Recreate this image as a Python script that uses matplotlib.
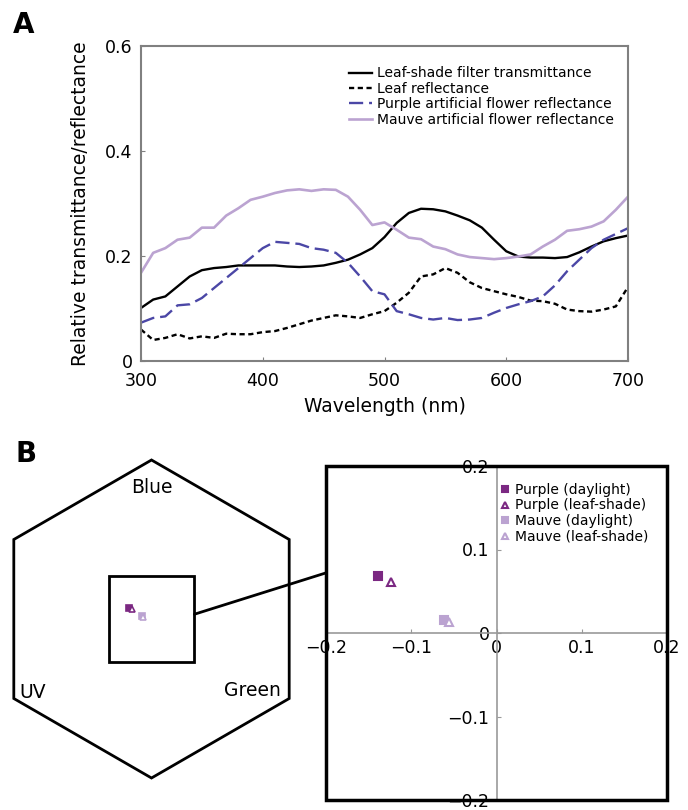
import matplotlib
matplotlib.use('Agg')
import matplotlib.pyplot as plt
from matplotlib.patches import Polygon, Rectangle, ConnectionPatch
import numpy as np

# panel A data
wavelength = list(range(300, 701, 10))
shade_trans = [0.101, 0.117, 0.123, 0.142, 0.161, 0.173, 0.177, 0.179, 0.182, 0.182, 0.182,
               0.182, 0.180, 0.179, 0.180, 0.182, 0.187, 0.193, 0.203, 0.215, 0.236,
               0.263, 0.282, 0.290, 0.289, 0.285, 0.277, 0.268, 0.254, 0.231, 0.209,
               0.199, 0.197, 0.197, 0.196, 0.198, 0.207, 0.218, 0.228, 0.234, 0.239]
leaf_refl = [0.060, 0.040, 0.044, 0.051, 0.043, 0.047, 0.044, 0.052, 0.051, 0.051, 0.055,
             0.057, 0.063, 0.070, 0.077, 0.082, 0.087, 0.085, 0.082, 0.089, 0.095,
             0.111, 0.130, 0.161, 0.165, 0.177, 0.168, 0.150, 0.139, 0.133, 0.127,
             0.122, 0.115, 0.114, 0.109, 0.098, 0.095, 0.094, 0.098, 0.104, 0.141]
purple_refl = [0.073, 0.082, 0.085, 0.106, 0.108, 0.120, 0.139, 0.158, 0.177, 0.196, 0.215,
               0.227, 0.225, 0.223, 0.215, 0.212, 0.206, 0.187, 0.161, 0.133, 0.127,
               0.095, 0.089, 0.082, 0.079, 0.082, 0.078, 0.079, 0.082, 0.092, 0.101,
               0.108, 0.114, 0.123, 0.144, 0.171, 0.193, 0.215, 0.231, 0.242, 0.253]
mauve_refl = [0.168, 0.206, 0.215, 0.231, 0.235, 0.254, 0.254, 0.277, 0.291, 0.307, 0.313,
              0.320, 0.325, 0.327, 0.324, 0.327, 0.326, 0.313, 0.288, 0.259, 0.264,
              0.250, 0.235, 0.232, 0.218, 0.213, 0.203, 0.198, 0.196, 0.194, 0.196,
              0.199, 0.203, 0.218, 0.231, 0.248, 0.251, 0.256, 0.266, 0.288, 0.313]

# panel B data (hexagon colour space coordinates)
point_names = ['Purple (daylight)', 'Purple (leaf-shade)', 'Mauve (daylight)', 'Mauve (leaf-shade)']
point_x = [-0.139, -0.124, -0.061, -0.056]
point_y = [0.068, 0.061, 0.016, 0.013]
hex_labels = ['Blue', 'UV', 'Green']

PURPLE = '#7b2882'
MAUVE = '#bba3d1'
BLUE_DASH = '#4b47a6'
point_colors = [PURPLE, PURPLE, MAUVE, MAUVE]
point_markers = ['s', '^', 's', '^']
point_filled = [True, False, True, False]

plt.rcParams['font.family'] = 'DejaVu Sans'

fig = plt.figure(figsize=(6.88, 8.10), dpi=100)
W, H = 688, 810


def px_axes(left, top, right, bottom):
    return fig.add_axes([left / W, 1 - bottom / H, (right - left) / W, (bottom - top) / H])


# ---------- panel A ----------
ax = px_axes(141, 46, 628, 361)
ax.plot(wavelength, shade_trans, color='black', lw=1.7, label='Leaf-shade filter transmittance')
ax.plot(wavelength, leaf_refl, color='black', lw=1.7, dashes=(2.2, 1.5), label='Leaf reflectance')
ax.plot(wavelength, purple_refl, color=BLUE_DASH, lw=1.7, dashes=(6, 2.5),
        label='Purple artificial flower reflectance')
ax.plot(wavelength, mauve_refl, color=MAUVE, lw=1.9, label='Mauve artificial flower reflectance')
ax.set_xlim(300, 700)
ax.set_ylim(0, 0.6)
ax.set_xticks([300, 400, 500, 600, 700])
ax.set_yticks([0, 0.2, 0.4, 0.6])
ax.set_yticklabels(['0', '0.2', '0.4', '0.6'])
for s in ax.spines.values():
    s.set_color('#808080')
    s.set_linewidth(1.5)
ax.tick_params(direction='in', length=3, color='#808080', labelsize=12.5)
ax.tick_params(axis='x', pad=8)
ax.tick_params(axis='y', pad=6)
ax.set_xlabel('Wavelength (nm)', fontsize=13.5, labelpad=5)
ax.set_ylabel('Relative transmittance/reflectance', fontsize=13.5, labelpad=11)
ax.legend(loc='upper left', bbox_to_anchor=(0.428, 0.935), frameon=False, fontsize=10,
          handlelength=1.6, handletextpad=0.35, labelspacing=0.1, borderpad=0, borderaxespad=0)

fig.text(13 / W, 1 - 33 / H, 'A', fontsize=20, fontweight='bold', ha='left', va='baseline')
fig.text(15 / W, 1 - 462 / H, 'B', fontsize=20, fontweight='bold', ha='left', va='baseline')

# ---------- panel B: hexagon ----------
hx = px_axes(0, 440, 320, 800)
hx.set_xlim(-151.5 / 159, (320 - 151.5) / 159)
hx.set_ylim(-181 / 159, 179 / 159)
hx.set_aspect('equal')
hx.axis('off')
ang = np.deg2rad([90, 30, -30, -90, -150, 150])
hex_pts = np.column_stack([np.cos(ang), np.sin(ang)])
hx.add_patch(Polygon(hex_pts, closed=True, fill=False, ec='black', lw=2))
box_half = 0.27
hx.add_patch(Rectangle((-box_half, -box_half), 2 * box_half, 2 * box_half, fill=False, ec='black', lw=2))
for i in range(4):
    fc = point_colors[i] if point_filled[i] else 'white'
    hx.plot(point_x[i], point_y[i], marker=point_markers[i], ms=4.5, mfc=fc, mec=point_colors[i], mew=1.2,
            ls='none')
hx.text(0, 0.83, hex_labels[0], fontsize=13.5, ha='center', va='center')
hx.text(-0.745, -0.46, hex_labels[1], fontsize=13.5, ha='center', va='center')
hx.text(0.632, -0.447, hex_labels[2], fontsize=13.5, ha='center', va='center')

# ---------- panel B: zoomed plot ----------
bx = px_axes(326, 466, 667, 800)
bx.set_xlim(-0.2, 0.2)
bx.set_ylim(-0.2, 0.2)
for side in ['top', 'right']:
    bx.spines[side].set_visible(False)
for side in ['left', 'bottom']:
    bx.spines[side].set_position('zero')
    bx.spines[side].set_color('#999999')
    bx.spines[side].set_linewidth(1.2)
bx.add_patch(Rectangle((0, 0), 1, 1, transform=bx.transAxes, fill=False, ec='black', lw=2.5,
                       clip_on=False, zorder=5))
ticks = [-0.2, -0.1, 0, 0.1, 0.2]
tick_text = ['\u22120.2', '\u22120.1', '0', '0.1', '0.2']
bx.set_xticks(ticks)
bx.set_xticklabels(tick_text)
bx.set_yticks(ticks)
bx.set_yticklabels(tick_text)
bx.tick_params(direction='in', length=3, color='#999999', labelsize=12.5)
bx.tick_params(axis='x', pad=4)
bx.tick_params(axis='y', pad=5)
for i in range(4):
    fc = point_colors[i] if point_filled[i] else 'white'
    bx.plot(point_x[i], point_y[i], marker=point_markers[i], ms=6, mfc=fc, mec=point_colors[i], mew=1.5,
            ls='none', label=point_names[i])
bx.legend(loc='upper left', bbox_to_anchor=(0.512, 0.95), frameon=False, fontsize=10,
          handlelength=0.7, handletextpad=0.35, labelspacing=0.12, borderpad=0, borderaxespad=0,
          markerscale=0.8)

con = ConnectionPatch(xyA=(box_half, 0.03), coordsA=hx.transData,
                      xyB=(-0.2, 0.072), coordsB=bx.transData, color='black', lw=2)
fig.add_artist(con)

fig.savefig('out.png', dpi=100)
